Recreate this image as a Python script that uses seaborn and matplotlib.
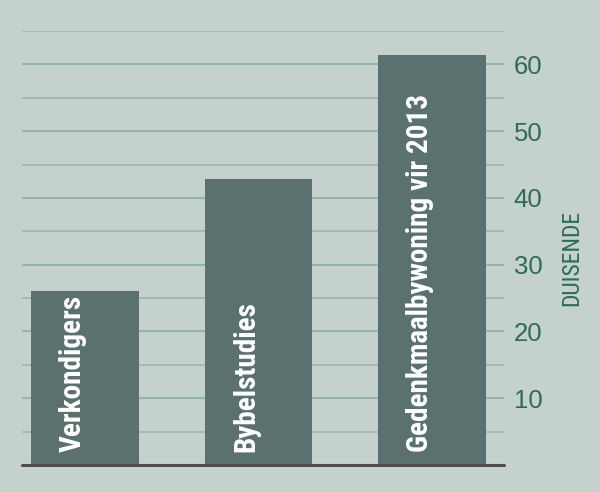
import matplotlib
matplotlib.use("Agg")
import matplotlib.pyplot as plt
import seaborn as sns
import pandas as pd
import numpy as np

categories = ["Verkondigers", "Bybelstudies", "Gedenkmaalbywoning vir 2013"]
values = [26.0, 42.8, 61.4]
yticks = [10, 20, 30, 40, 50, 60]
minor_ticks = [5, 15, 25, 35, 45, 55, 65]
ylabel = "DUISENDE"

BG = "#c5d1cd"
BAR = "#5a716f"
TXT = "#2f6a5a"
GRID_MAJ = "#8fb3a9"
GRID_MIN = "#a7b4b0"
COND = ['Roboto Condensed', 'Barlow Condensed', 'Liberation Sans', 'DejaVu Sans']

sns.set_theme(style="white")
plt.rcParams['font.family'] = ['Liberation Sans', 'DejaVu Sans']

fig = plt.figure(figsize=(6, 4.92), dpi=100, facecolor=BG)
ax = fig.add_axes([22/600, (492-465)/492, (504-22)/600, (465-31)/492])
ax.set_facecolor(BG)

df = pd.DataFrame({"cat": categories, "val": values})
sns.barplot(data=df, x="cat", y="val", color=BAR, saturation=1, width=0.62, ax=ax,
            zorder=3, linewidth=0, edgecolor=BAR)

ax.set_xlim(-0.363, 2.415)
ax.set_ylim(0, 65)
ax.set_yticks(yticks)
ax.set_yticks(minor_ticks, minor=True)
ax.yaxis.tick_right()
ax.tick_params(axis='y', which='both', length=0, pad=7, labelsize=18.5, labelcolor=TXT)
ax.tick_params(axis='y', which='minor', labelright=False)
ax.set_xticks([])
ax.set_xlabel("")
ax.set_ylabel("")
ax.grid(False)
for t in yticks:
    ax.axhline(t, color=GRID_MAJ, lw=1.3, zorder=1)
for t in minor_ticks:
    ax.axhline(t, color=GRID_MIN, lw=1.3, zorder=1)
ax.axhline(0, color="#4d4d4d", lw=2.2, zorder=4, clip_on=False)
for s in ax.spines.values():
    s.set_visible(False)

for i, c in enumerate(categories):
    ax.text(i - 0.072, 1.9, c, rotation=90, ha='center', va='bottom', color='white',
            fontsize=21, fontweight='bold', zorder=5, family=COND)

fig.text(572/600, 1 - 258/492, ylabel, rotation=90, ha='center', va='center', color=TXT,
         fontsize=17, family=COND)

fig.savefig("out.png", dpi=100, facecolor=BG)
